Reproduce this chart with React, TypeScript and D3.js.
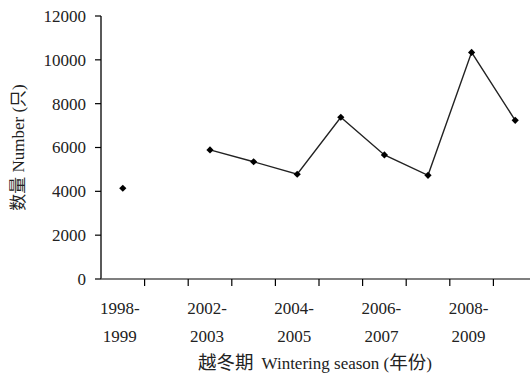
import * as d3 from "d3";

const width = 530;
const height = 378;

const seasons = [
  "1998-1999",
  "2000-2001",
  "2002-2003",
  "2003-2004",
  "2004-2005",
  "2005-2006",
  "2006-2007",
  "2007-2008",
  "2008-2009",
  "2009-2010",
];
const counts: (number | null)[] = [4140, null, 5890, 5350, 4780, 7380, 5660, 4730, 10340, 7240];
const yTicks = [0, 2000, 4000, 6000, 8000, 10000, 12000];
const labelledSeasons = ["1998-1999", "2002-2003", "2004-2005", "2006-2007", "2008-2009"];

const font = "'Liberation Serif', 'Times New Roman', 'Noto Sans CJK SC', serif";

const x = d3.scaleBand<string>().domain(seasons).range([101, 537]).padding(0);
const y = d3.scaleLinear().domain([0, 12000]).range([279, 16]);

function App() {
  const pts = seasons.map((s, i) => ({ s, v: counts[i] }));
  const line = d3
    .line<{ s: string; v: number | null }>()
    .defined((d) => d.v != null)
    .x((d) => (x(d.s) ?? 0) + x.bandwidth() / 2)
    .y((d) => y(d.v as number));
  const marker = d3.symbol(d3.symbolSquare, 26)() ?? "";

  return (
    <svg
      width={width}
      height={height}
      style={{ position: "absolute", left: 0, top: 0, background: "#fff" }}
      fontFamily={font}
    >
      {/* y axis */}
      <line x1={101} x2={101} y1={y(12000)} y2={y(0)} stroke="#000" strokeWidth={1.3} />
      {yTicks.map((t) => (
        <g key={t} transform={`translate(0,${y(t)})`}>
          <line x1={95} x2={101} stroke="#000" strokeWidth={1.2} />
          <text x={86} dy="0.35em" textAnchor="end" fontSize={17} fill="#222">
            {t}
          </text>
        </g>
      ))}
      <text
        transform={`translate(24,${(y(0) + y(12000)) / 2}) rotate(-90)`}
        textAnchor="middle"
        fontSize={17}
        fill="#222"
      >
        数量 Number (只)
      </text>

      {/* x axis */}
      <line x1={101} x2={537} y1={y(0)} y2={y(0)} stroke="#555" strokeWidth={1.5} />
      {seasons.slice(1).map((s) => (
        <line
          key={s}
          x1={x(s) ?? 0}
          x2={x(s) ?? 0}
          y1={y(0)}
          y2={y(0) + 7}
          stroke="#000"
          strokeWidth={1.2}
        />
      ))}
      {labelledSeasons.map((s) => {
        const [a, b] = s.split("-");
        const cx = (x(s) ?? 0) + x.bandwidth() / 2 - 3;
        return (
          <text key={s} x={cx} textAnchor="middle" fontSize={17} fill="#222">
            <tspan x={cx} y={314}>
              {a}-
            </tspan>
            <tspan x={cx} y={342}>
              {b}
            </tspan>
          </text>
        );
      })}
      <text x={315} y={369} textAnchor="middle" fontSize={17} fill="#222">
        <tspan fontSize={18.5}>越冬期</tspan>
        <tspan dx={8}>Wintering season (</tspan>
        <tspan fontSize={18.5}>年份</tspan>
        <tspan>)</tspan>
      </text>

      {/* series */}
      <path d={line(pts) ?? ""} fill="none" stroke="#222" strokeWidth={1.4} />
      {pts
        .filter((d) => d.v != null)
        .map((d) => (
          <path
            key={d.s}
            d={marker}
            transform={`translate(${(x(d.s) ?? 0) + x.bandwidth() / 2},${y(d.v as number)}) rotate(45)`}
            fill="#000"
          />
        ))}
    </svg>
  );
}

export default App;
